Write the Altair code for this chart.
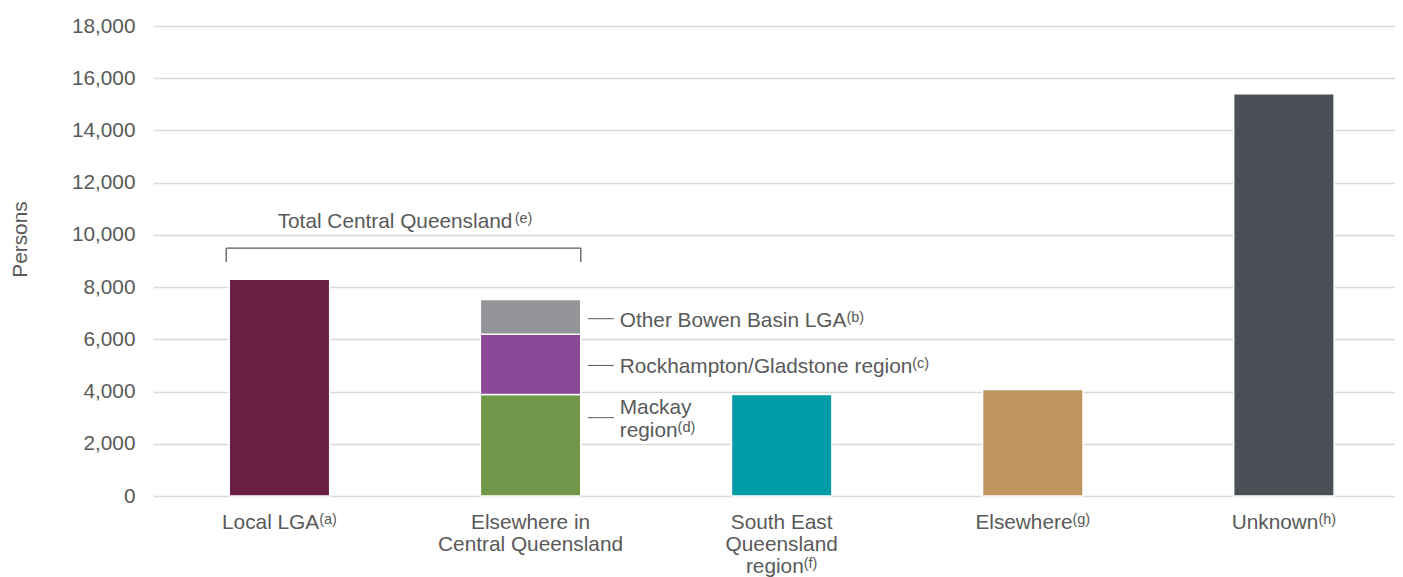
import altair as alt
import pandas as pd

# ---------------- data ----------------
categories = ["Local LGA", "Elsewhere in Central Queensland",
              "South East Queensland region", "Elsewhere", "Unknown"]
segments = ["Local LGA", "Mackay region", "Rockhampton/Gladstone region",
            "Other Bowen Basin LGA", "South East Queensland region", "Elsewhere", "Unknown"]
segment_category = ["Local LGA", "Elsewhere in Central Queensland", "Elsewhere in Central Queensland",
                    "Elsewhere in Central Queensland", "South East Queensland region", "Elsewhere", "Unknown"]
segment_values = [8300, 3890, 2300, 1340, 3890, 4080, 15410]
segment_order = [0, 0, 1, 2, 0, 0, 0]
segment_colors = ["#6B1F44", "#71984A", "#8A4896", "#939598", "#009DA6", "#BE955C", "#4B4F56"]

y_ticks = list(range(0, 18001, 2000))

x_label_lines = [["Local LGA"], ["Elsewhere in", "Central Queensland"],
                 ["South East", "Queensland", "region"], ["Elsewhere"], ["Unknown"]]
x_label_sups = ["(a)", "", "(f)", "(g)", "(h)"]

seg_label_lines = [["Other Bowen Basin LGA"], ["Rockhampton/Gladstone region"], ["Mackay", "region"]]
seg_label_sups = ["(b)", "(c)", "(d)"]
seg_label_values = [6790, 5000, 3000]

total_label = "Total Central Queensland"
total_sup = "(e)"
total_label_value = 10250
bracket_top = 9490
bracket_foot = 8960

# ---------------- style ----------------
FONT = "Liberation Sans"
FS = 20.8
SFS = 14.5
TXT = "#595959"
GRID = "#D9D9D9"
W = 1242
H = 470
P_IN, P_OUT, ALIGN = 0.6, 0.273, 0.556
STEP = W / (len(categories) - P_IN + 2 * P_OUT)
BW = STEP * (1 - P_IN)
LH = 22.4
RAISE = 5

ARIAL = {' ': 278, '(': 333, ')': 333, ',': 278, '/': 278, '-': 333, '.': 278,
         'A': 667, 'B': 667, 'C': 722, 'D': 722, 'E': 667, 'F': 611, 'G': 778, 'H': 722, 'I': 278,
         'J': 500, 'K': 667, 'L': 556, 'M': 833, 'N': 722, 'O': 778, 'P': 667, 'Q': 778, 'R': 722,
         'S': 667, 'T': 611, 'U': 722, 'V': 667, 'W': 944, 'X': 667, 'Y': 667, 'Z': 611,
         'a': 556, 'b': 556, 'c': 500, 'd': 556, 'e': 556, 'f': 278, 'g': 556, 'h': 556, 'i': 222,
         'j': 222, 'k': 500, 'l': 222, 'm': 833, 'n': 556, 'o': 556, 'p': 556, 'q': 556, 'r': 333,
         's': 500, 't': 278, 'u': 556, 'v': 500, 'w': 722, 'x': 500, 'y': 500, 'z': 500}


def tw(s, fs):
    return sum(ARIAL.get(c, 556) for c in s) / 1000 * fs


xs = alt.Scale(domain=categories, paddingInner=P_IN, paddingOuter=P_OUT, align=ALIGN)
ys = alt.Scale(domain=[0, 18000], nice=False)
yaxis = alt.Axis(values=y_ticks, format=",.0f", grid=True, gridColor=GRID, gridWidth=1.5,
                 domain=False, ticks=False, labelPadding=18, labelFont=FONT,
                 labelFontSize=FS, labelColor=TXT, title="Persons", titleFont=FONT,
                 titleFontSize=FS, titleFontWeight="normal", titleColor=TXT,
                 titleAngle=270, titleX=-133, titleY=213, titleAlign="center",
                 titleBaseline="middle")

df = pd.DataFrame({"cat": segment_category, "seg": segments,
                   "value": segment_values, "ord": segment_order})

bars = alt.Chart(df).mark_bar(stroke="white", strokeWidth=1.5).encode(
    x=alt.X("cat:N", scale=xs, axis=None),
    y=alt.Y("value:Q", stack="zero", scale=ys, axis=yaxis),
    color=alt.Color("seg:N", scale=alt.Scale(domain=segments, range=segment_colors), legend=None),
    order=alt.Order("ord:Q"),
)

layers = [bars]


def text_layer(cat, yval, text, dx, dy, fs):
    d = pd.DataFrame({"cat": [cat], "value": [yval], "t": [text]})
    return alt.Chart(d).mark_text(align="left", baseline="alphabetic", dx=dx, dy=dy,
                                  font=FONT, fontSize=fs, color=TXT).encode(
        x=alt.X("cat:N", scale=xs, axis=None),
        y=alt.Y("value:Q", scale=ys, axis=yaxis),
        text="t:N")


# x category labels
for cat, lines, sup in zip(categories, x_label_lines, x_label_sups):
    for j, line in enumerate(lines):
        s = sup if j == len(lines) - 1 else ""
        w = tw(line, FS)
        ws = tw(s, SFS)
        x0 = -(w + ws) / 2
        dy = 32.5 + j * LH
        layers.append(text_layer(cat, 0, line, x0, dy, FS))
        if s:
            layers.append(text_layer(cat, 0, s, x0 + w, dy - RAISE, SFS))

# segment labels & leader lines
stack_cat = categories[1]
for lines, sup, val in zip(seg_label_lines, seg_label_sups, seg_label_values):
    d = pd.DataFrame({"cat": [stack_cat], "value": [val]})
    layers.append(alt.Chart(d).mark_rule(color=TXT, strokeWidth=1,
                                         xOffset=BW / 2 + 7, x2Offset=BW / 2 + 33).encode(
        x=alt.X("cat:N", scale=xs, axis=None),
        x2="cat:N",
        y=alt.Y("value:Q", scale=ys, axis=yaxis)))
    n = len(lines)
    for j, line in enumerate(lines):
        dy = 8 - (n - 1) * LH / 2 + j * LH
        layers.append(text_layer(stack_cat, val, line, BW / 2 + 39, dy, FS))
        if j == n - 1:
            layers.append(text_layer(stack_cat, val, sup, BW / 2 + 39 + tw(line, FS),
                                     dy - RAISE, SFS))

# bracket
bl = pd.DataFrame({"a": [categories[0]], "b": [categories[1]], "value": [bracket_top]})
layers.append(alt.Chart(bl).mark_rule(color=TXT, strokeWidth=1.3,
                                      xOffset=-BW / 2 - 3, x2Offset=BW / 2).encode(
    x=alt.X("a:N", scale=xs, axis=None), x2="b:N",
    y=alt.Y("value:Q", scale=ys, axis=yaxis)))
bv = pd.DataFrame({"cat": [categories[0], categories[1]], "value": [bracket_foot] * 2,
                   "v2": [bracket_top] * 2})
for i, off in enumerate([-BW / 2 - 3, BW / 2]):
    layers.append(alt.Chart(bv.iloc[[i]]).mark_rule(color=TXT, strokeWidth=1.3, xOffset=off).encode(
        x=alt.X("cat:N", scale=xs, axis=None),
        y=alt.Y("value:Q", scale=ys, axis=yaxis), y2="v2:Q"))

# total label (centred over the gap between the first two bars)
wt = tw(total_label, FS)
wst = tw(total_sup, SFS)
t0 = STEP / 2 - (wt + wst) / 2
layers.append(text_layer(categories[0], total_label_value, total_label, t0, 0, FS))
layers.append(text_layer(categories[0], total_label_value, total_sup, t0 + wt, -RAISE, SFS))

chart = alt.layer(*layers).properties(
    width=W, height=H,
    autosize=alt.AutoSizeParams(type="none"),
    padding={"left": 145, "top": 18, "right": 0, "bottom": 81},
).configure_view(stroke=None)

chart.save("out.html", embed_options={"renderer": "svg", "actions": False})
